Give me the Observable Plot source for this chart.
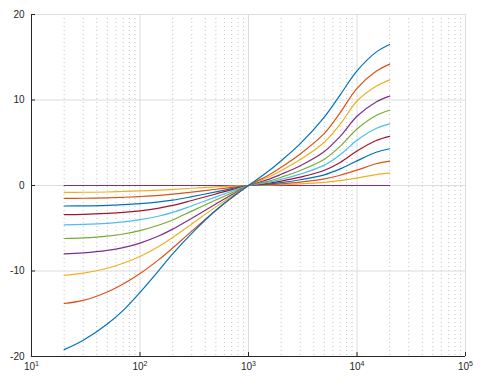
<!DOCTYPE html>
<html>
<head>
<meta charset="utf-8">
<script src="https://cdn.jsdelivr.net/npm/d3@7"></script>
<script src="https://cdn.jsdelivr.net/npm/@observablehq/plot@0.6"></script>
<style>
  html, body { margin: 0; padding: 0; background: #fff; overflow: hidden; }
  #chart svg { display: block; }
</style>
</head>
<body>
<div id="chart"></div>
<script>
// Frequencies (Hz) where each curve was read
const freqs = [20, 30, 50, 70, 100, 150, 200, 300, 500, 700, 1000, 1500, 2000, 3000, 5000, 7000, 10000, 15000, 20000];

// Gain (dB) of each curve at those frequencies
const curve1  = [-19.2, -18.1, -16.2, -14.6, -12.5, -9.9, -8.0, -5.6, -2.9, -1.4, 0, 1.6, 2.9, 4.9, 8.0, 10.6, 13.4, 15.6, 16.5];
const curve2  = [-13.8, -13.44, -12.45, -11.52, -10.3, -8.64, -7.31, -5.34, -2.93, -1.45, 0, 1.14, 2.13, 3.69, 6.1, 8.52, 11.36, 13.35, 14.2];
const curve3  = [-10.5, -10.24, -9.68, -9.1, -8.3, -7.1, -6.08, -4.5, -2.5, -1.25, 0, 0.93, 1.73, 3.03, 5.06, 7.16, 9.88, 11.6, 12.35];
const curve4  = [-8.0, -7.88, -7.59, -7.27, -6.74, -5.88, -5.1, -3.83, -2.17, -1.09, 0, 0.68, 1.31, 2.3, 3.97, 5.75, 8.1, 9.77, 10.45];
const curve5  = [-6.2, -6.13, -5.92, -5.67, -5.27, -4.62, -4.03, -3.0, -1.7, -0.86, 0, 0.48, 0.97, 1.76, 3.08, 4.58, 6.6, 8.18, 8.8];
const curve6  = [-4.6, -4.55, -4.42, -4.26, -4.0, -3.57, -3.15, -2.37, -1.33, -0.67, 0, 0.36, 0.72, 1.33, 2.38, 3.6, 5.29, 6.66, 7.2];
const curve7  = [-3.4, -3.37, -3.26, -3.15, -2.96, -2.64, -2.33, -1.75, -0.99, -0.49, 0, 0.26, 0.52, 0.98, 1.78, 2.7, 4.03, 5.26, 5.75];
const curve8  = [-2.4, -2.38, -2.32, -2.24, -2.12, -1.92, -1.72, -1.31, -0.74, -0.37, 0, 0.17, 0.34, 0.67, 1.25, 1.94, 2.88, 3.89, 4.3];
const curve9  = [-1.5, -1.49, -1.44, -1.38, -1.29, -1.16, -1.02, -0.77, -0.44, -0.22, 0, 0.1, 0.2, 0.4, 0.77, 1.2, 1.8, 2.54, 2.85];
const curve10 = [-0.8, -0.79, -0.76, -0.70, -0.64, -0.54, -0.46, -0.32, -0.16, -0.08, 0, 0.04, 0.09, 0.18, 0.36, 0.58, 0.87, 1.28, 1.45];
const curve11 = [0, 0, 0, 0, 0, 0, 0, 0, 0, 0, 0, 0, 0, 0, 0, 0, 0, 0, 0];

const curves = [curve1, curve2, curve3, curve4, curve5, curve6, curve7, curve8, curve9, curve10, curve11];
const curveColors = ["#0072BD", "#D95319", "#EDB120", "#7E2F8E", "#77AC30", "#4DBEEE", "#A2142F", "#0072BD", "#D95319", "#EDB120", "#7E2F8E"];

// Axis ticks
const xTicks = [10, 100, 1000, 10000, 100000];
const yTicks = [-20, -10, 0, 10, 20];

const xDomain = [10, 100000];
const yDomain = [-20, 20];

// Minor log grid positions (2..9 of each decade)
const minorX = [];
for (let d = 10; d < 100000; d *= 10) for (let m = 2; m <= 9; m++) minorX.push(m * d);

const axisColor = "#262626";
const gridColor = "#dcdcdc";

const lineMarks = curves.map((vals, i) =>
  Plot.line(freqs.map((f, j) => ({f, v: vals[j]})), {
    x: "f", y: "v", stroke: curveColors[i], strokeWidth: 1.2, curve: "catmull-rom"
  })
);

const chart = Plot.plot({
  width: 485,
  height: 386,
  marginLeft: 31,
  marginRight: 20,
  marginTop: 14,
  marginBottom: 30,
  style: {fontFamily: "'Liberation Sans', Arial, sans-serif", fontSize: "10px", color: axisColor, background: "#fff"},
  x: {type: "log", domain: xDomain, axis: null},
  y: {domain: yDomain, axis: null},
  marks: [
    Plot.ruleX(minorX, {stroke: "#c2c2c2", strokeDasharray: "1,3", strokeWidth: 1}),
    Plot.ruleX(xTicks, {stroke: gridColor, strokeWidth: 1}),
    Plot.ruleY(yTicks, {stroke: gridColor, strokeWidth: 1}),
    ...lineMarks.slice().reverse(),
    Plot.axisX({ticks: xTicks, tickSize: -4, stroke: axisColor, label: null, tickFormat: () => ""}),
    Plot.axisX({ticks: xTicks, tickSize: 0, tickPadding: 6, fill: axisColor, label: null, tickFormat: d => "10^" + Math.round(Math.log10(d))}),
    Plot.axisY({ticks: yTicks, tickSize: -4, stroke: axisColor, label: null, tickFormat: () => ""}),
    Plot.axisY({ticks: yTicks, tickSize: 0, tickPadding: 7, fill: axisColor, label: null, tickFormat: d => String(d)}),
    Plot.ruleX([xDomain[0]], {stroke: axisColor, strokeWidth: 1}),
    Plot.ruleY([yDomain[0]], {stroke: axisColor, strokeWidth: 1})
  ]
});

document.getElementById("chart").appendChild(chart);

// Render exponents as superscripts
chart.querySelectorAll("text").forEach(t => {
  const m = /^10\^(\d)$/.exec(t.textContent);
  if (m) {
    t.textContent = "10";
    const sup = document.createElementNS("http://www.w3.org/2000/svg", "tspan");
    sup.setAttribute("dy", "-4");
    sup.setAttribute("font-size", "7");
    sup.textContent = m[1];
    t.appendChild(sup);
  }
});
</script>
</body>
</html>
